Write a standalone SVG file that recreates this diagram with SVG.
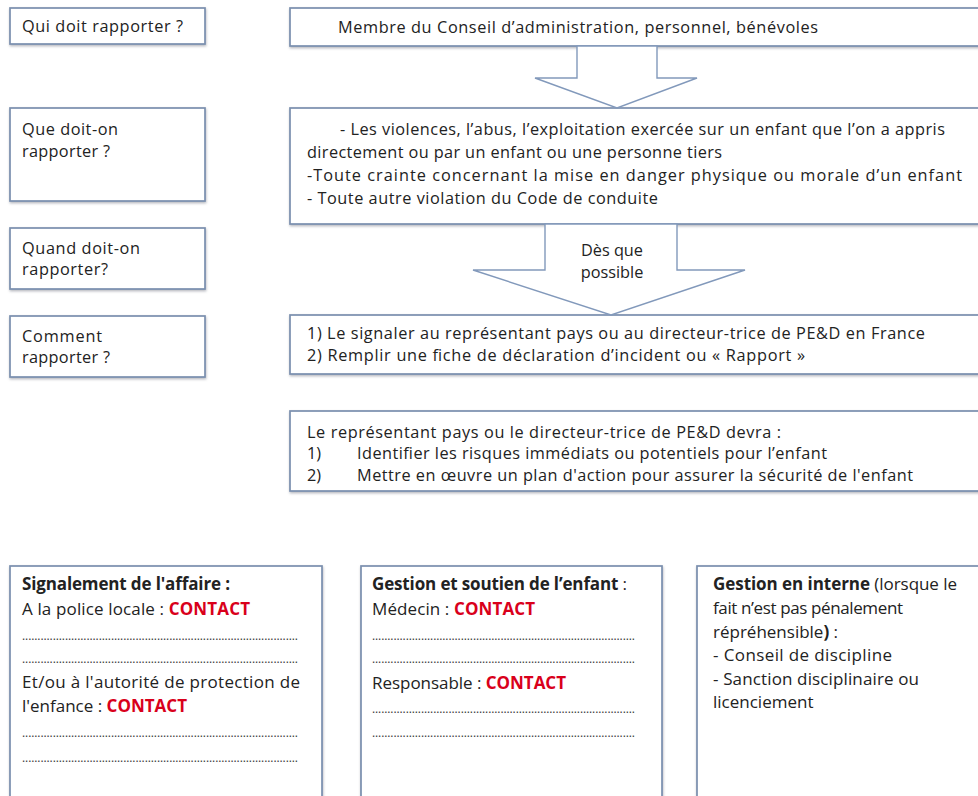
<svg xmlns="http://www.w3.org/2000/svg" width="978" height="796" viewBox="0 0 978 796">
<defs>
<filter id="sh" x="-5%" y="-10%" width="110%" height="130%">
<feDropShadow dx="0.5" dy="1.5" stdDeviation="1" flood-color="#6f7580" flood-opacity="0.5"/>
</filter>
<style>
.box{fill:#ffffff;stroke:#7a8fae;stroke-width:1.7;filter:url(#sh)}
.arrow{fill:#ffffff;stroke:#8299bb;stroke-width:1.4;stroke-linejoin:miter}
text{font-family:"Open Sans","Noto Sans","Liberation Sans",sans-serif;font-size:16.3px;fill:#222222}
.b{font-size:17px}
.bold{font-weight:bold}
.red{font-weight:bold;fill:#d9001b}
.dots{font-size:12px;fill:#3a3a3a}
</style>
</defs>
<rect width="978" height="796" fill="#ffffff"/>

<g id="q-qui">
<rect class="box" x="10" y="8" width="195" height="36"/>
<text x="22" y="32" textLength="161">Qui doit rapporter ?</text>
</g>
<g id="r-qui">
<rect class="box" x="290" y="8" width="700" height="38"/>
<text x="338" y="33" textLength="480">Membre du Conseil d’administration, personnel, bénévoles</text>
</g>

<g id="q-que">
<rect class="box" x="10" y="108" width="195" height="93"/>
<text x="22" y="135" textLength="96">Que doit-on</text>
<text x="22" y="157" textLength="88">rapporter ?</text>
</g>
<g id="r-que">
<rect class="box" x="290" y="108" width="700" height="116"/>
<text x="340" y="135" textLength="605">- Les violences, l’abus, l’exploitation exercée sur un enfant que l’on a appris</text>
<text x="307" y="158" textLength="415">directement ou par un enfant ou une personne tiers</text>
<text x="307" y="181" textLength="655">-Toute crainte concernant la mise en danger physique ou morale d’un enfant</text>
<text x="307" y="204" textLength="351">- Toute autre violation du Code de conduite</text>
</g>

<g id="q-quand">
<rect class="box" x="10" y="228" width="195" height="61"/>
<text x="22" y="254" textLength="118">Quand doit-on</text>
<text x="22" y="275" textLength="86">rapporter?</text>
</g>

<g id="q-comment">
<rect class="box" x="10" y="316" width="195" height="61"/>
<text x="22" y="342" textLength="80">Comment</text>
<text x="22" y="363" textLength="88">rapporter ?</text>
</g>
<g id="r-comment">
<rect class="box" x="290" y="315" width="700" height="59"/>
<text x="307" y="339" textLength="618">1) Le signaler au représentant pays ou au directeur-trice de PE&amp;D en France</text>
<text x="307" y="361" textLength="498">2) Remplir une fiche de déclaration d’incident ou « Rapport »</text>
</g>

<g id="r-action">
<rect class="box" x="290" y="411" width="700" height="80"/>
<text x="307" y="438" textLength="474">Le représentant pays ou le directeur-trice de PE&amp;D devra :</text>
<text x="307" y="459">1)</text>
<text x="357" y="459" textLength="470">Identifier les risques immédiats ou potentiels pour l’enfant</text>
<text x="307" y="481">2)</text>
<text x="357" y="481" textLength="556">Mettre en œuvre un plan d'action pour assurer la sécurité de l'enfant</text>
</g>

<g id="connectors">
<polygon class="arrow" points="577,46 657,46 657,78 697,78 617,108 535,78 577,78"/>
<polygon class="arrow" points="545,224 677,224 677,270 745,270 611,315 473,270 545,270"/>
<text x="612" y="256" text-anchor="middle">Dès que</text>
<text x="612" y="278" text-anchor="middle">possible</text>
</g>

<g id="b-signalement">
<rect class="box" x="10" y="566" width="312" height="240"/>
<text class="b" x="22" y="590" textLength="208"><tspan class="bold">Signalement de l'affaire :</tspan></text>
<text class="b" x="22" y="615" textLength="228">A la police locale : <tspan class="red">CONTACT</tspan></text>
<text class="dots" x="22" y="640" textLength="276">..........................................................................................</text>
<text class="dots" x="22" y="663" textLength="276">..........................................................................................</text>
<text class="b" x="22" y="688" textLength="278">Et/ou à l'autorité de protection de</text>
<text class="b" x="22" y="712" textLength="165">l'enfance : <tspan class="red">CONTACT</tspan></text>
<text class="dots" x="22" y="737" textLength="276">..........................................................................................</text>
<text class="dots" x="22" y="762" textLength="276">..........................................................................................</text>
</g>

<g id="b-gestion-enfant">
<rect class="box" x="361" y="566" width="301" height="240"/>
<text class="b" x="372" y="590" textLength="255"><tspan class="bold">Gestion et soutien de l’enfant</tspan> :</text>
<text class="b" x="372" y="615" textLength="163">Médecin : <tspan class="red">CONTACT</tspan></text>
<text class="dots" x="372" y="640" textLength="263">......................................................................................</text>
<text class="dots" x="372" y="663" textLength="263">......................................................................................</text>
<text class="b" x="372" y="689" textLength="194">Responsable : <tspan class="red">CONTACT</tspan></text>
<text class="dots" x="372" y="713" textLength="263">......................................................................................</text>
<text class="dots" x="372" y="737" textLength="263">......................................................................................</text>
</g>

<g id="b-gestion-interne">
<rect class="box" x="697" y="566" width="300" height="240"/>
<text class="b" x="713" y="590" textLength="244"><tspan class="bold">Gestion en interne</tspan> (lorsque le</text>
<text class="b" x="713" y="614" textLength="190">fait n’est pas pénalement</text>
<text class="b" x="713" y="638">répréhensible<tspan class="bold">)</tspan> :</text>
<text class="b" x="713" y="661" textLength="179">- Conseil de discipline</text>
<text class="b" x="713" y="685" textLength="206">- Sanction disciplinaire ou</text>
<text class="b" x="713" y="708">licenciement</text>
</g>
</svg>
